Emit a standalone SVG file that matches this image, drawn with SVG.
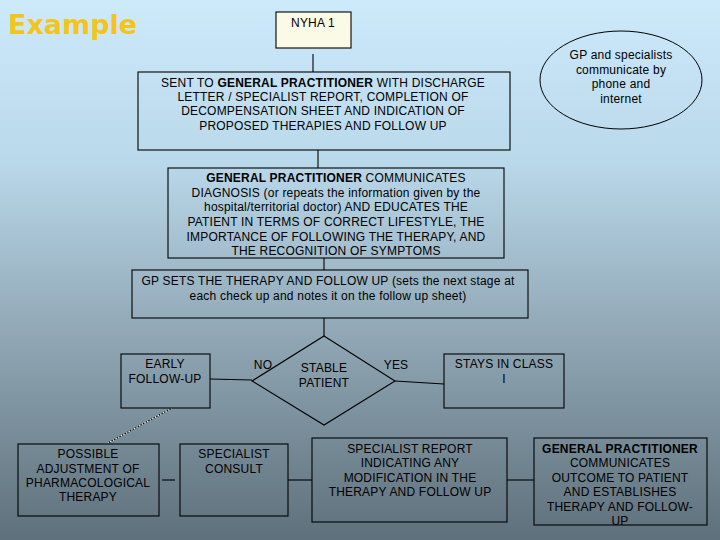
<svg xmlns="http://www.w3.org/2000/svg" width="720" height="540" viewBox="0 0 720 540">
<defs>
<linearGradient id="bg" x1="0" y1="0" x2="0" y2="1">
<stop offset="0" stop-color="#cdeafb"/>
<stop offset="0.3" stop-color="#b9d8ea"/>
<stop offset="0.6" stop-color="#93aab8"/>
<stop offset="1" stop-color="#5e707b"/>
</linearGradient>
<style>
.b{fill:none;stroke:#000;stroke-width:1.1}
.t{font-family:"Liberation Sans",Arial,sans-serif;font-size:12px;fill:#000;text-anchor:middle;letter-spacing:0.2px}
.s{font-weight:bold}
.c{stroke:#000;stroke-width:1.1;fill:none}
</style>
</defs>
<rect width="720" height="540" fill="url(#bg)"/>
<text x="8" y="34" font-family="DejaVu Sans,sans-serif" font-weight="bold" font-size="27" fill="#f3c51c">Example</text>

<g id="connectors">
<line class="c" x1="313" y1="54" x2="313" y2="72"/>
<line class="c" x1="318" y1="150" x2="318" y2="168"/>
<line class="c" x1="324" y1="258" x2="324" y2="270"/>
<line class="c" x1="324" y1="318" x2="324" y2="336"/>
<line class="c" x1="210" y1="379" x2="252" y2="380"/>
<line class="c" x1="395" y1="381" x2="444" y2="384"/>
<line x1="172" y1="408" x2="108" y2="443" stroke="#000" stroke-width="1.2"/>
<line x1="172" y1="408" x2="108" y2="443" stroke="#fff" stroke-width="1.2" stroke-dasharray="1.5,1.5"/>
<line class="c" x1="162" y1="480" x2="175" y2="480"/>
<line class="c" x1="288" y1="480" x2="312" y2="480"/>
<line class="c" x1="507" y1="480" x2="534" y2="480"/>
</g>

<g id="nyha">
<rect x="276" y="12" width="75" height="36" fill="#fafae6" stroke="#000" stroke-width="1.1"/>
<text class="t" x="313" y="27">NYHA 1</text>
</g>

<g id="sent">
<rect class="b" x="138" y="72" width="372" height="78"/>
<text class="t" x="323" y="87">SENT TO <tspan class="s">GENERAL PRACTITIONER</tspan> WITH DISCHARGE</text>
<text class="t" x="323" y="101">LETTER / SPECIALIST REPORT, COMPLETION OF</text>
<text class="t" x="323" y="115">DECOMPENSATION SHEET AND INDICATION OF</text>
<text class="t" x="323" y="130">PROPOSED THERAPIES AND FOLLOW UP</text>
</g>

<g id="ellipse">
<ellipse cx="621" cy="80" rx="81" ry="49" fill="none" stroke="#000" stroke-width="1"/>
<text class="t" x="621" y="59">GP and specialists</text>
<text class="t" x="621" y="74">communicate by</text>
<text class="t" x="621" y="88">phone and</text>
<text class="t" x="621" y="103">internet</text>
</g>

<g id="gpcomm">
<rect class="b" x="168" y="168" width="336" height="90"/>
<text class="t" x="336" y="182"><tspan class="s">GENERAL PRACTITIONER</tspan> COMMUNICATES</text>
<text class="t" x="336" y="197">DIAGNOSIS (or repeats the information given by the</text>
<text class="t" x="336" y="211">hospital/territorial doctor) AND EDUCATES THE</text>
<text class="t" x="336" y="226">PATIENT IN TERMS OF CORRECT LIFESTYLE, THE</text>
<text class="t" x="336" y="241">IMPORTANCE OF FOLLOWING THE THERAPY, AND</text>
<text class="t" x="336" y="255">THE RECOGNITION OF SYMPTOMS</text>
</g>

<g id="gpsets">
<rect class="b" x="132" y="270" width="396" height="48"/>
<text class="t" x="328" y="285">GP SETS THE THERAPY AND FOLLOW UP (sets the next stage at</text>
<text class="t" x="328" y="300">each check up and notes it on the follow up sheet)</text>
</g>

<g id="stable">
<polygon class="b" points="324,336 395,381 324,425 252,381"/>
<text class="t" x="324" y="372">STABLE</text>
<text class="t" x="324" y="387">PATIENT</text>
</g>
<text class="t" x="263" y="369">NO</text>
<text class="t" x="396" y="369">YES</text>

<g id="early">
<rect class="b" x="121" y="354" width="89" height="54"/>
<text class="t" x="165" y="368">EARLY</text>
<text class="t" x="165" y="383">FOLLOW-UP</text>
</g>

<g id="stays">
<rect class="b" x="444" y="354" width="120" height="54"/>
<text class="t" x="504" y="368">STAYS IN CLASS</text>
<text class="t" x="504" y="383">I</text>
</g>

<g id="possible">
<rect class="b" x="18" y="444" width="141" height="72"/>
<text class="t" x="88" y="458">POSSIBLE</text>
<text class="t" x="88" y="473">ADJUSTMENT OF</text>
<text class="t" x="88" y="487">PHARMACOLOGICAL</text>
<text class="t" x="88" y="501">THERAPY</text>
</g>

<g id="consult">
<rect class="b" x="180" y="444" width="108" height="72"/>
<text class="t" x="234" y="458">SPECIALIST</text>
<text class="t" x="234" y="473">CONSULT</text>
</g>

<g id="report">
<rect class="b" x="312" y="438" width="195" height="84"/>
<text class="t" x="410" y="453">SPECIALIST REPORT</text>
<text class="t" x="410" y="467">INDICATING ANY</text>
<text class="t" x="410" y="482">MODIFICATION IN THE</text>
<text class="t" x="410" y="496">THERAPY AND FOLLOW UP</text>
</g>

<g id="gpfinal">
<rect class="b" x="534" y="438" width="173" height="87"/>
<text class="t" x="620" y="453"><tspan class="s">GENERAL PRACTITIONER</tspan></text>
<text class="t" x="620" y="467">COMMUNICATES</text>
<text class="t" x="620" y="482">OUTCOME TO PATIENT</text>
<text class="t" x="620" y="496">AND ESTABLISHES</text>
<text class="t" x="620" y="511">THERAPY AND FOLLOW-</text>
<text class="t" x="620" y="525">UP</text>
</g>
</svg>
